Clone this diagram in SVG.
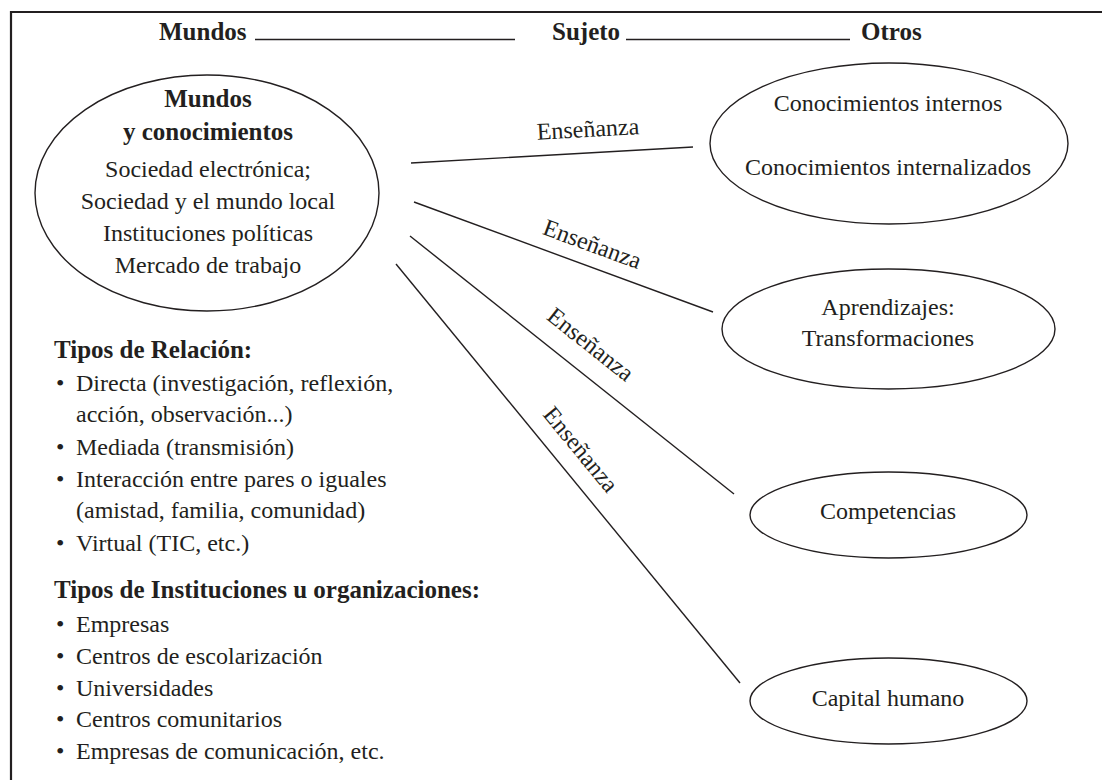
<svg xmlns="http://www.w3.org/2000/svg" width="1102" height="780" viewBox="0 0 1102 780" font-family="'Liberation Serif', 'DejaVu Serif', serif">
<style>
text{font-family:'Liberation Serif','DejaVu Serif',serif;fill:#231f20;font-size:24px}
.b{font-weight:bold;font-size:25px}
.m{text-anchor:middle}
.el{fill:none;stroke:#231f20;stroke-width:1.4}
.ln{stroke:#231f20;stroke-width:1.4;fill:none}
</style>
<rect width="1102" height="780" fill="#fff"/>
<path d="M11,782 V12 H1104" fill="none" stroke="#231f20" stroke-width="2.2"/>
<g id="header">
<text class="b" x="159" y="40">Mundos</text>
<line class="ln" x1="255" y1="39.5" x2="515" y2="39.5"/>
<text class="b" x="552" y="40">Sujeto</text>
<line class="ln" x1="626" y1="39.5" x2="850" y2="39.5"/>
<text class="b" x="861" y="40">Otros</text>
</g>
<g id="connectors">
<line class="ln" x1="411" y1="163" x2="693" y2="147"/>
<line class="ln" x1="414" y1="202" x2="713" y2="312"/>
<line class="ln" x1="410" y1="236" x2="734" y2="494"/>
<line class="ln" x1="396" y1="264" x2="740" y2="683"/>
<text class="m" transform="translate(588,130) rotate(-3.2)" y="7">Enseñanza</text>
<text class="m" transform="translate(592,245) rotate(20.2)" y="7">Enseñanza</text>
<text class="m" transform="translate(590,345) rotate(38.5)" y="7">Enseñanza</text>
<text class="m" transform="translate(580,450) rotate(50.6)" y="7">Enseñanza</text>
</g>
<g id="mundos">
<ellipse class="el" cx="207" cy="193" rx="172" ry="118"/>
<text class="b m" x="208" y="107">Mundos</text>
<text class="b m" x="208" y="140">y conocimientos</text>
<text class="m" x="208" y="177">Sociedad electrónica;</text>
<text class="m" x="208" y="209">Sociedad y el mundo local</text>
<text class="m" x="208" y="241">Instituciones políticas</text>
<text class="m" x="208" y="273">Mercado de trabajo</text>
</g>
<g id="conocimientos">
<ellipse class="el" cx="889" cy="143.5" rx="179" ry="80.5"/>
<text class="m" x="888" y="111">Conocimientos internos</text>
<text class="m" x="888" y="175">Conocimientos internalizados</text>
</g>
<g id="aprendizajes">
<ellipse class="el" cx="888.5" cy="329" rx="166.5" ry="60"/>
<text class="m" x="888" y="315">Aprendizajes:</text>
<text class="m" x="888" y="346">Transformaciones</text>
</g>
<g id="competencias">
<ellipse class="el" cx="888.5" cy="515" rx="138.5" ry="43"/>
<text class="m" x="888" y="519">Competencias</text>
</g>
<g id="capital">
<ellipse class="el" cx="888.5" cy="701" rx="138.5" ry="43"/>
<text class="m" x="888" y="706">Capital humano</text>
</g>
<g id="tipos-relacion">
<text class="b" x="54" y="358">Tipos de Relación:</text>
<text x="56" y="391">•</text><text x="76" y="391">Directa (investigación, reflexión,</text>
<text x="76" y="422">acción, observación...)</text>
<text x="56" y="455">•</text><text x="76" y="455">Mediada (transmisión)</text>
<text x="56" y="487">•</text><text x="76" y="487">Interacción entre pares o iguales</text>
<text x="76" y="518">(amistad, familia, comunidad)</text>
<text x="56" y="551">•</text><text x="76" y="551">Virtual (TIC, etc.)</text>
</g>
<g id="tipos-instituciones">
<text class="b" x="54" y="598">Tipos de Instituciones u organizaciones:</text>
<text x="56" y="632">•</text><text x="76" y="632">Empresas</text>
<text x="56" y="664">•</text><text x="76" y="664">Centros de escolarización</text>
<text x="56" y="696">•</text><text x="76" y="696">Universidades</text>
<text x="56" y="727">•</text><text x="76" y="727">Centros comunitarios</text>
<text x="56" y="759">•</text><text x="76" y="759">Empresas de comunicación, etc.</text>
</g>
</svg>
